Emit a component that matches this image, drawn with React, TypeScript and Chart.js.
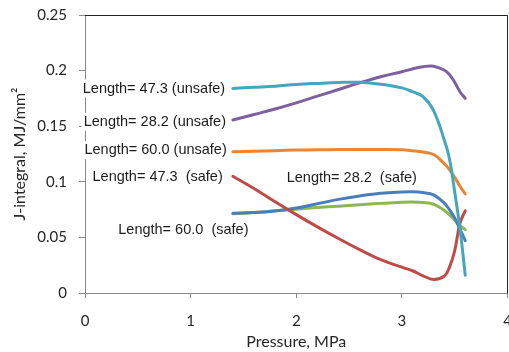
import { useEffect, useRef } from "react";
import { Chart, registerables } from "chart.js";

Chart.register(...registerables);

// Pressure samples (MPa) shared by every curve
const pressure = [1.4, 1.6, 1.8, 2.0, 2.2, 2.4, 2.6, 2.8, 3.0, 3.1, 3.2, 3.3, 3.4, 3.45, 3.5, 3.55, 3.6];

// J-integral (MJ/mm²) per crack length
const len473Unsafe = [0.184, 0.185, 0.186, 0.1875, 0.1885, 0.1893, 0.1895, 0.1878, 0.1845, 0.181, 0.1765, 0.164, 0.138, 0.121, 0.091, 0.058, 0.016];
const len282Unsafe = [0.1556, 0.1605, 0.1655, 0.171, 0.177, 0.183, 0.189, 0.1945, 0.199, 0.2015, 0.2035, 0.204, 0.2005, 0.1965, 0.1895, 0.181, 0.175];
const len600Unsafe = [0.127, 0.1275, 0.128, 0.1285, 0.1288, 0.129, 0.129, 0.129, 0.1288, 0.128, 0.1268, 0.1245, 0.1165, 0.111, 0.104, 0.096, 0.089];
const len473Safe = [0.105, 0.094, 0.082, 0.0705, 0.0595, 0.049, 0.039, 0.03, 0.0232, 0.02, 0.0155, 0.0122, 0.015, 0.023, 0.038, 0.0627, 0.074];
const len282Safe = [0.0717, 0.0723, 0.0738, 0.0765, 0.0802, 0.0842, 0.0873, 0.0897, 0.0908, 0.091, 0.0903, 0.0882, 0.081, 0.075, 0.0675, 0.0575, 0.047];
const len600Safe = [0.0712, 0.0724, 0.0739, 0.0754, 0.0768, 0.0781, 0.0794, 0.0806, 0.0816, 0.0818, 0.0813, 0.0798, 0.0745, 0.0705, 0.0655, 0.0605, 0.057];

// Curve captions
const seriesNames = [
  "Length= 47.3 (unsafe)",
  "Length= 28.2 (unsafe)",
  "Length= 60.0 (unsafe)",
  "Length= 47.3  (safe)",
  "Length= 28.2  (safe)",
  "Length= 60.0  (safe)",
];

// Axis ticks
const xTickValues = [0, 1, 2, 3, 4];
const xTickLabels = ["0", "1", "2", "3", "4"];
const yTickValues = [0, 0.05, 0.1, 0.15, 0.2, 0.25];
const yTickLabels = ["0", "0.05", "0.1", "0.15", "0.2", "0.25"];

const xTitle = "Pressure, MPa";
const yTitle = "J-integral, MJ/mm²";

// Where each caption sits, in axis units (x, y) and which side of the anchor it extends to
const captionAnchors: { x: number; y: number; align: "left" | "right" }[] = [
  { x: 1.326, y: 0.184, align: "right" },
  { x: 1.335, y: 0.154, align: "right" },
  { x: 1.342, y: 0.1286, align: "right" },
  { x: 1.304, y: 0.1046, align: "right" },
  { x: 1.91, y: 0.104, align: "left" },
  { x: 0.315, y: 0.0567, align: "left" },
];

const colors = {
  len473Unsafe: "#43A7BF",
  len282Unsafe: "#7D60A1",
  len600Unsafe: "#EA8535",
  len473Safe: "#BE4B48",
  len282Safe: "#4A7EBB",
  len600Safe: "#8DB654",
};

const axisGray = "#8a8a8a";
const tickFont = { family: "Lato, 'Open Sans', sans-serif", size: 15 };

const toPoints = (ys: number[]) => pressure.map((x, i) => ({ x, y: ys[i] }));

const decorPlugin = {
  id: "decor",
  afterDraw(chart: any) {
    const { ctx, chartArea: a, scales } = chart;
    ctx.save();

    // top and right frame lines
    ctx.strokeStyle = "#222";
    ctx.lineWidth = 1;
    ctx.beginPath();
    ctx.moveTo(a.left, Math.round(a.top) + 0.5);
    ctx.lineTo(Math.round(a.right) - 0.5, Math.round(a.top) + 0.5);
    ctx.lineTo(Math.round(a.right) - 0.5, a.bottom);
    ctx.stroke();

    // curve captions on white boxes
    ctx.font = "14.5px 'Liberation Sans', Arial, sans-serif";
    ctx.textBaseline = "middle";
    seriesNames.forEach((name, i) => {
      const anc = captionAnchors[i];
      const px = scales.x.getPixelForValue(anc.x);
      const py = scales.y.getPixelForValue(anc.y);
      const w = ctx.measureText(name).width;
      const left = anc.align === "right" ? px - w : px;
      ctx.fillStyle = "#fff";
      ctx.fillRect(left - 2, py - 9, w + 4, 18);
      ctx.fillStyle = "#1c1c1c";
      ctx.textAlign = "left";
      ctx.fillText(name, left, py + 0.5);
    });

    // axis titles
    ctx.fillStyle = "#262626";
    ctx.font = "16px Lato, 'Open Sans', sans-serif";
    ctx.textAlign = "center";
    ctx.textBaseline = "middle";
    ctx.fillText(xTitle, (a.left + a.right) / 2, 341.5);
    ctx.save();
    ctx.translate(20, (a.top + a.bottom) / 2);
    ctx.rotate(-Math.PI / 2);
    ctx.fillText(yTitle, 0, 0);
    ctx.restore();

    ctx.restore();
  },
};

export default function App() {
  const ref = useRef<HTMLCanvasElement>(null);

  useEffect(() => {
    document.body.style.margin = "0";
    const line = (data: number[], color: string) => ({
      data: toPoints(data),
      borderColor: color,
      backgroundColor: color,
      borderWidth: 3,
      pointRadius: 0,
      fill: false,
      tension: 0.4,
      borderCapStyle: "round" as const,
      borderJoinStyle: "round" as const,
    });

    const chart = new Chart(ref.current!, {
      type: "line",
      data: {
        datasets: [
          line(len473Unsafe, colors.len473Unsafe),
          line(len473Safe, colors.len473Safe),
          line(len282Unsafe, colors.len282Unsafe),
          line(len600Unsafe, colors.len600Unsafe),
          line(len282Safe, colors.len282Safe),
          line(len600Safe, colors.len600Safe),
        ],
      },
      options: {
        responsive: false,
        animation: false,
        events: [],
        layout: { padding: { top: 15, right: 1, left: 0, bottom: 0 } },
        plugins: { legend: { display: false }, tooltip: { enabled: false } },
        scales: {
          x: {
            type: "linear",
            min: 0,
            max: 4,
            afterBuildTicks: (s: any) => {
              s.ticks = xTickValues.map((value) => ({ value }));
            },
            afterFit: (s: any) => {
              s.height = 59;
              s.paddingLeft = 0;
              s.paddingRight = 0;
            },
            grid: { drawOnChartArea: false, color: axisGray, tickLength: 5 },
            border: { color: axisGray },
            ticks: {
              font: tickFont,
              color: "#262626",
              padding: 14,
              maxRotation: 0,
              autoSkip: false,
              callback: (_v: any, i: number) => xTickLabels[i],
            },
          },
          y: {
            type: "linear",
            min: 0,
            max: 0.25,
            afterBuildTicks: (s: any) => {
              s.ticks = yTickValues.map((value) => ({ value }));
            },
            afterFit: (s: any) => {
              s.width = 85;
              s.paddingTop = 0;
              s.paddingBottom = 0;
            },
            grid: { drawOnChartArea: false, color: axisGray, tickLength: 6 },
            border: { color: axisGray },
            ticks: {
              font: tickFont,
              color: "#262626",
              padding: 12,
              autoSkip: false,
              callback: (_v: any, i: number) => yTickLabels[i],
            },
          },
        },
      },
      plugins: [decorPlugin],
    });

    const fonts = (document as any).fonts;
    if (fonts && fonts.load) {
      Promise.all([fonts.load("15px Lato"), fonts.load("14.5px 'Liberation Sans'")]).then(() => chart.update());
    }
    return () => chart.destroy();
  }, []);

  return (
    <div style={{ width: 509, height: 352 }}>
      <canvas ref={ref} width={509} height={352} style={{ display: "block" }} />
    </div>
  );
}
